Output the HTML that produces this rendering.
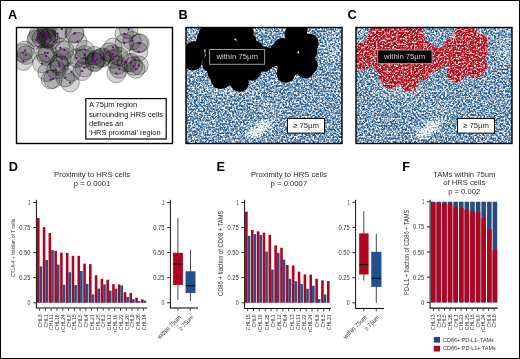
<!DOCTYPE html>
<html><head><meta charset="utf-8"><style>
html,body{margin:0;padding:0;background:#fff;}
svg{display:block;font-family:"Liberation Sans", sans-serif;}
text{opacity:0.999;}
</style></head><body>
<svg width="520" height="359" viewBox="0 0 520 359">
<defs>
<filter id="nzg" x="0" y="0" width="1" height="1" color-interpolation-filters="sRGB">
<feTurbulence type="fractalNoise" baseFrequency="0.55" numOctaves="2" seed="7"/>
<feColorMatrix type="matrix" values="1 0 0 0 0  1 0 0 0 0  1 0 0 0 0  0 0 0 0 1"/>
</filter>
<filter id="thb" x="0" y="0" width="1" height="1" color-interpolation-filters="sRGB">
<feColorMatrix type="matrix" values="0 0 0 0 0.16  0 0 0 0 0.37  0 0 0 0 0.57  -3.2 0 0 0 2.196"/>
</filter>
<filter id="nzr" x="0" y="0" width="1" height="1" color-interpolation-filters="sRGB">
<feTurbulence type="fractalNoise" baseFrequency="0.55" numOctaves="2" seed="11"/>
<feColorMatrix type="matrix" values="0 0 0 0 0.68  0 0 0 0 0.05  0 0 0 0 0.1  3.2 0 0 0 -0.780"/>
</filter>
<radialGradient id="wg"><stop offset="0" stop-color="#fff" stop-opacity="1"/><stop offset="0.55" stop-color="#fff" stop-opacity="0.6"/><stop offset="1" stop-color="#fff" stop-opacity="0"/></radialGradient>
<clipPath id="clipA"><rect x="16.5" y="27.5" width="156" height="116"/></clipPath>
<clipPath id="clipB"><rect x="186.0" y="27.5" width="156" height="116"/></clipPath>
<clipPath id="clipC"><rect x="356.0" y="27.5" width="156" height="116"/></clipPath>
<clipPath id="blobC"><circle cx="378.2" cy="33.5" r="9.3"/><circle cx="376.5" cy="37.8" r="9.3"/><circle cx="375.7" cy="39.9" r="9.3"/><circle cx="386.5" cy="28.9" r="9.3"/><circle cx="386.0" cy="33.1" r="9.3"/><circle cx="385.8" cy="37.4" r="9.3"/><circle cx="386.4" cy="39.0" r="9.3"/><circle cx="390.0" cy="40.0" r="9.3"/><circle cx="364.5" cy="50.4" r="9.3"/><circle cx="362.3" cy="53.0" r="9.3"/><circle cx="365.5" cy="55.1" r="9.3"/><circle cx="362.8" cy="61.1" r="9.3"/><circle cx="384.5" cy="52.9" r="9.3"/><circle cx="387.2" cy="53.1" r="9.3"/><circle cx="385.5" cy="56.1" r="9.3"/><circle cx="401.4" cy="29.1" r="9.3"/><circle cx="397.1" cy="33.7" r="9.3"/><circle cx="414.3" cy="33.0" r="9.3"/><circle cx="413.8" cy="33.8" r="9.3"/><circle cx="417.2" cy="41.6" r="9.3"/><circle cx="399.9" cy="47.8" r="9.3"/><circle cx="404.1" cy="50.1" r="9.3"/><circle cx="424.5" cy="49.8" r="9.3"/><circle cx="424.0" cy="54.9" r="9.3"/><circle cx="423.6" cy="58.2" r="9.3"/><circle cx="404.8" cy="57.2" r="9.3"/><circle cx="401.4" cy="58.7" r="9.3"/><circle cx="416.1" cy="58.1" r="9.3"/><circle cx="433.8" cy="55.7" r="9.3"/><circle cx="436.2" cy="59.3" r="9.3"/><circle cx="434.5" cy="61.4" r="9.3"/><circle cx="440.7" cy="58.0" r="9.3"/><circle cx="441.8" cy="57.1" r="9.3"/><circle cx="468.2" cy="29.4" r="9.3"/><circle cx="463.8" cy="33.8" r="9.3"/><circle cx="471.6" cy="40.7" r="9.3"/><circle cx="463.8" cy="43.1" r="9.3"/><circle cx="452.4" cy="47.4" r="9.3"/><circle cx="448.6" cy="52.0" r="9.3"/><circle cx="452.1" cy="54.3" r="9.3"/><circle cx="458.6" cy="56.5" r="9.3"/><circle cx="452.5" cy="59.0" r="9.3"/><circle cx="381.4" cy="63.5" r="9.3"/><circle cx="386.7" cy="72.2" r="9.3"/><circle cx="390.1" cy="79.6" r="9.3"/><circle cx="392.4" cy="79.1" r="9.3"/><circle cx="395.5" cy="69.8" r="9.3"/><circle cx="398.4" cy="63.8" r="9.3"/><circle cx="398.9" cy="65.9" r="9.3"/><circle cx="410.9" cy="72.0" r="9.3"/><circle cx="404.8" cy="77.6" r="9.3"/><circle cx="409.6" cy="82.7" r="9.3"/><circle cx="423.7" cy="67.7" r="9.3"/><circle cx="421.7" cy="71.2" r="9.3"/><circle cx="434.0" cy="62.5" r="9.3"/><circle cx="457.0" cy="65.1" r="9.3"/><circle cx="458.6" cy="69.0" r="9.3"/><circle cx="455.8" cy="73.5" r="9.3"/><circle cx="466.1" cy="62.5" r="9.3"/><circle cx="470.4" cy="62.7" r="9.3"/><circle cx="473.0" cy="66.0" r="9.3"/><circle cx="475.3" cy="69.0" r="9.3"/><circle cx="478.4" cy="65.3" r="9.3"/><circle cx="477.9" cy="43.4" r="9.3"/><circle cx="479.4" cy="43.1" r="9.3"/><circle cx="478.2" cy="51.6" r="9.3"/></clipPath>
<mask id="outC" maskUnits="userSpaceOnUse" x="0" y="0" width="520" height="359"><rect x="0" y="0" width="520" height="359" fill="#fff"/><g fill="#000"><circle cx="378.2" cy="33.5" r="9.3"/><circle cx="376.5" cy="37.8" r="9.3"/><circle cx="375.7" cy="39.9" r="9.3"/><circle cx="386.5" cy="28.9" r="9.3"/><circle cx="386.0" cy="33.1" r="9.3"/><circle cx="385.8" cy="37.4" r="9.3"/><circle cx="386.4" cy="39.0" r="9.3"/><circle cx="390.0" cy="40.0" r="9.3"/><circle cx="364.5" cy="50.4" r="9.3"/><circle cx="362.3" cy="53.0" r="9.3"/><circle cx="365.5" cy="55.1" r="9.3"/><circle cx="362.8" cy="61.1" r="9.3"/><circle cx="384.5" cy="52.9" r="9.3"/><circle cx="387.2" cy="53.1" r="9.3"/><circle cx="385.5" cy="56.1" r="9.3"/><circle cx="401.4" cy="29.1" r="9.3"/><circle cx="397.1" cy="33.7" r="9.3"/><circle cx="414.3" cy="33.0" r="9.3"/><circle cx="413.8" cy="33.8" r="9.3"/><circle cx="417.2" cy="41.6" r="9.3"/><circle cx="399.9" cy="47.8" r="9.3"/><circle cx="404.1" cy="50.1" r="9.3"/><circle cx="424.5" cy="49.8" r="9.3"/><circle cx="424.0" cy="54.9" r="9.3"/><circle cx="423.6" cy="58.2" r="9.3"/><circle cx="404.8" cy="57.2" r="9.3"/><circle cx="401.4" cy="58.7" r="9.3"/><circle cx="416.1" cy="58.1" r="9.3"/><circle cx="433.8" cy="55.7" r="9.3"/><circle cx="436.2" cy="59.3" r="9.3"/><circle cx="434.5" cy="61.4" r="9.3"/><circle cx="440.7" cy="58.0" r="9.3"/><circle cx="441.8" cy="57.1" r="9.3"/><circle cx="468.2" cy="29.4" r="9.3"/><circle cx="463.8" cy="33.8" r="9.3"/><circle cx="471.6" cy="40.7" r="9.3"/><circle cx="463.8" cy="43.1" r="9.3"/><circle cx="452.4" cy="47.4" r="9.3"/><circle cx="448.6" cy="52.0" r="9.3"/><circle cx="452.1" cy="54.3" r="9.3"/><circle cx="458.6" cy="56.5" r="9.3"/><circle cx="452.5" cy="59.0" r="9.3"/><circle cx="381.4" cy="63.5" r="9.3"/><circle cx="386.7" cy="72.2" r="9.3"/><circle cx="390.1" cy="79.6" r="9.3"/><circle cx="392.4" cy="79.1" r="9.3"/><circle cx="395.5" cy="69.8" r="9.3"/><circle cx="398.4" cy="63.8" r="9.3"/><circle cx="398.9" cy="65.9" r="9.3"/><circle cx="410.9" cy="72.0" r="9.3"/><circle cx="404.8" cy="77.6" r="9.3"/><circle cx="409.6" cy="82.7" r="9.3"/><circle cx="423.7" cy="67.7" r="9.3"/><circle cx="421.7" cy="71.2" r="9.3"/><circle cx="434.0" cy="62.5" r="9.3"/><circle cx="457.0" cy="65.1" r="9.3"/><circle cx="458.6" cy="69.0" r="9.3"/><circle cx="455.8" cy="73.5" r="9.3"/><circle cx="466.1" cy="62.5" r="9.3"/><circle cx="470.4" cy="62.7" r="9.3"/><circle cx="473.0" cy="66.0" r="9.3"/><circle cx="475.3" cy="69.0" r="9.3"/><circle cx="478.4" cy="65.3" r="9.3"/><circle cx="477.9" cy="43.4" r="9.3"/><circle cx="479.4" cy="43.1" r="9.3"/><circle cx="478.2" cy="51.6" r="9.3"/></g></mask>
</defs>
<rect x="0.5" y="0.5" width="519" height="358" fill="#fff" stroke="#000" stroke-width="1"/>

<text x="8.0" y="18.5" font-size="12.8" font-weight="bold" fill="#000">A</text>
<text x="178.6" y="18.5" font-size="12.8" font-weight="bold" fill="#000">B</text>
<text x="347.6" y="18.5" font-size="12.8" font-weight="bold" fill="#000">C</text>
<text x="8.8" y="170.6" font-size="12.8" font-weight="bold" fill="#000">D</text>
<text x="216.6" y="170.6" font-size="12.8" font-weight="bold" fill="#000">E</text>
<text x="402.2" y="170.6" font-size="12.8" font-weight="bold" fill="#000">F</text>
<g clip-path="url(#clipA)">
<g fill="rgba(0,0,0,0.17)" stroke="rgba(0,0,0,0.55)" stroke-width="0.6"><circle cx="38.7" cy="33.5" r="9.3"/><circle cx="37.0" cy="37.8" r="9.3"/><circle cx="36.2" cy="39.9" r="9.3"/><circle cx="47.0" cy="28.9" r="9.3"/><circle cx="46.5" cy="33.1" r="9.3"/><circle cx="46.3" cy="37.4" r="9.3"/><circle cx="46.9" cy="39.0" r="9.3"/><circle cx="50.5" cy="40.0" r="9.3"/><circle cx="25.0" cy="50.4" r="9.3"/><circle cx="22.8" cy="53.0" r="9.3"/><circle cx="26.0" cy="55.1" r="9.3"/><circle cx="23.3" cy="61.1" r="9.3"/><circle cx="45.0" cy="52.9" r="9.3"/><circle cx="47.7" cy="53.1" r="9.3"/><circle cx="46.0" cy="56.1" r="9.3"/><circle cx="61.9" cy="29.1" r="9.3"/><circle cx="57.6" cy="33.7" r="9.3"/><circle cx="74.8" cy="33.0" r="9.3"/><circle cx="74.3" cy="33.8" r="9.3"/><circle cx="77.7" cy="41.6" r="9.3"/><circle cx="60.4" cy="47.8" r="9.3"/><circle cx="64.6" cy="50.1" r="9.3"/><circle cx="85.0" cy="49.8" r="9.3"/><circle cx="84.5" cy="54.9" r="9.3"/><circle cx="84.1" cy="58.2" r="9.3"/><circle cx="65.3" cy="57.2" r="9.3"/><circle cx="61.9" cy="58.7" r="9.3"/><circle cx="76.6" cy="58.1" r="9.3"/><circle cx="94.3" cy="55.7" r="9.3"/><circle cx="96.7" cy="59.3" r="9.3"/><circle cx="95.0" cy="61.4" r="9.3"/><circle cx="101.2" cy="58.0" r="9.3"/><circle cx="102.3" cy="57.1" r="9.3"/><circle cx="128.7" cy="29.4" r="9.3"/><circle cx="124.3" cy="33.8" r="9.3"/><circle cx="132.1" cy="40.7" r="9.3"/><circle cx="124.3" cy="43.1" r="9.3"/><circle cx="112.9" cy="47.4" r="9.3"/><circle cx="109.1" cy="52.0" r="9.3"/><circle cx="112.6" cy="54.3" r="9.3"/><circle cx="119.1" cy="56.5" r="9.3"/><circle cx="113.0" cy="59.0" r="9.3"/><circle cx="41.9" cy="63.5" r="9.3"/><circle cx="47.2" cy="72.2" r="9.3"/><circle cx="50.6" cy="79.6" r="9.3"/><circle cx="52.9" cy="79.1" r="9.3"/><circle cx="56.0" cy="69.8" r="9.3"/><circle cx="58.9" cy="63.8" r="9.3"/><circle cx="59.4" cy="65.9" r="9.3"/><circle cx="71.4" cy="72.0" r="9.3"/><circle cx="65.3" cy="77.6" r="9.3"/><circle cx="70.1" cy="82.7" r="9.3"/><circle cx="84.2" cy="67.7" r="9.3"/><circle cx="82.2" cy="71.2" r="9.3"/><circle cx="94.5" cy="62.5" r="9.3"/><circle cx="117.5" cy="65.1" r="9.3"/><circle cx="119.1" cy="69.0" r="9.3"/><circle cx="116.3" cy="73.5" r="9.3"/><circle cx="126.6" cy="62.5" r="9.3"/><circle cx="130.9" cy="62.7" r="9.3"/><circle cx="133.5" cy="66.0" r="9.3"/><circle cx="135.8" cy="69.0" r="9.3"/><circle cx="138.9" cy="65.3" r="9.3"/><circle cx="138.4" cy="43.4" r="9.3"/><circle cx="139.9" cy="43.1" r="9.3"/><circle cx="138.7" cy="51.6" r="9.3"/></g>
<g fill="rgba(0,0,0,0.16)" stroke="rgba(0,0,0,0.6)" stroke-width="0.7"><circle cx="41.5" cy="38.5" r="9.3"/><circle cx="48.5" cy="38.0" r="9.3"/></g>
<circle cx="38.7" cy="33.5" r="1.1" fill="#72008a"/><circle cx="37.0" cy="37.8" r="1.1" fill="#72008a"/><circle cx="36.2" cy="39.9" r="1.1" fill="#72008a"/><circle cx="47.0" cy="28.9" r="1.1" fill="#72008a"/><circle cx="46.5" cy="33.1" r="1.1" fill="#72008a"/><circle cx="46.3" cy="37.4" r="1.1" fill="#72008a"/><circle cx="46.9" cy="39.0" r="1.1" fill="#72008a"/><circle cx="50.5" cy="40.0" r="1.1" fill="#72008a"/><circle cx="25.0" cy="50.4" r="1.1" fill="#72008a"/><circle cx="22.8" cy="53.0" r="1.1" fill="#72008a"/><circle cx="26.0" cy="55.1" r="1.1" fill="#72008a"/><circle cx="23.3" cy="61.1" r="1.1" fill="#72008a"/><circle cx="45.0" cy="52.9" r="1.1" fill="#72008a"/><circle cx="47.7" cy="53.1" r="1.1" fill="#72008a"/><circle cx="46.0" cy="56.1" r="1.1" fill="#72008a"/><circle cx="61.9" cy="29.1" r="1.1" fill="#72008a"/><circle cx="57.6" cy="33.7" r="1.1" fill="#72008a"/><circle cx="74.8" cy="33.0" r="1.1" fill="#72008a"/><circle cx="74.3" cy="33.8" r="1.1" fill="#72008a"/><circle cx="77.7" cy="41.6" r="1.1" fill="#72008a"/><circle cx="60.4" cy="47.8" r="1.1" fill="#72008a"/><circle cx="64.6" cy="50.1" r="1.1" fill="#72008a"/><circle cx="85.0" cy="49.8" r="1.1" fill="#72008a"/><circle cx="84.5" cy="54.9" r="1.1" fill="#72008a"/><circle cx="84.1" cy="58.2" r="1.1" fill="#72008a"/><circle cx="65.3" cy="57.2" r="1.1" fill="#72008a"/><circle cx="61.9" cy="58.7" r="1.1" fill="#72008a"/><circle cx="76.6" cy="58.1" r="1.1" fill="#72008a"/><circle cx="94.3" cy="55.7" r="1.1" fill="#72008a"/><circle cx="96.7" cy="59.3" r="1.1" fill="#72008a"/><circle cx="95.0" cy="61.4" r="1.1" fill="#72008a"/><circle cx="101.2" cy="58.0" r="1.1" fill="#72008a"/><circle cx="102.3" cy="57.1" r="1.1" fill="#72008a"/><circle cx="128.7" cy="29.4" r="1.1" fill="#72008a"/><circle cx="124.3" cy="33.8" r="1.1" fill="#72008a"/><circle cx="132.1" cy="40.7" r="1.1" fill="#72008a"/><circle cx="124.3" cy="43.1" r="1.1" fill="#72008a"/><circle cx="112.9" cy="47.4" r="1.1" fill="#72008a"/><circle cx="109.1" cy="52.0" r="1.1" fill="#72008a"/><circle cx="112.6" cy="54.3" r="1.1" fill="#72008a"/><circle cx="119.1" cy="56.5" r="1.1" fill="#72008a"/><circle cx="113.0" cy="59.0" r="1.1" fill="#72008a"/><circle cx="41.9" cy="63.5" r="1.1" fill="#72008a"/><circle cx="47.2" cy="72.2" r="1.1" fill="#72008a"/><circle cx="50.6" cy="79.6" r="1.1" fill="#72008a"/><circle cx="52.9" cy="79.1" r="1.1" fill="#72008a"/><circle cx="56.0" cy="69.8" r="1.1" fill="#72008a"/><circle cx="58.9" cy="63.8" r="1.1" fill="#72008a"/><circle cx="59.4" cy="65.9" r="1.1" fill="#72008a"/><circle cx="71.4" cy="72.0" r="1.1" fill="#72008a"/><circle cx="65.3" cy="77.6" r="1.1" fill="#72008a"/><circle cx="70.1" cy="82.7" r="1.1" fill="#72008a"/><circle cx="84.2" cy="67.7" r="1.1" fill="#72008a"/><circle cx="82.2" cy="71.2" r="1.1" fill="#72008a"/><circle cx="94.5" cy="62.5" r="1.1" fill="#72008a"/><circle cx="117.5" cy="65.1" r="1.1" fill="#72008a"/><circle cx="119.1" cy="69.0" r="1.1" fill="#72008a"/><circle cx="116.3" cy="73.5" r="1.1" fill="#72008a"/><circle cx="126.6" cy="62.5" r="1.1" fill="#72008a"/><circle cx="130.9" cy="62.7" r="1.1" fill="#72008a"/><circle cx="133.5" cy="66.0" r="1.1" fill="#72008a"/><circle cx="135.8" cy="69.0" r="1.1" fill="#72008a"/><circle cx="138.9" cy="65.3" r="1.1" fill="#72008a"/><circle cx="138.4" cy="43.4" r="1.1" fill="#72008a"/><circle cx="139.9" cy="43.1" r="1.1" fill="#72008a"/><circle cx="138.7" cy="51.6" r="1.1" fill="#72008a"/>
</g>
<rect x="16.5" y="27.5" width="156" height="116" fill="none" stroke="#000" stroke-width="1.4"/>
<rect x="85.8" y="98.6" width="80.4" height="40.4" fill="#fff" stroke="#000" stroke-width="1.2"/>
<text x="89" y="107.4" font-size="7.45" fill="#111">A 75µm region</text>
<text x="89" y="116.5" font-size="7.45" fill="#111">surrounding HRS cells</text>
<text x="89" y="125.6" font-size="7.45" fill="#111">defines an</text>
<text x="89" y="134.7" font-size="7.45" fill="#111">‘HRS proximal’ region</text>
<g clip-path="url(#clipB)">
<rect x="186.0" y="27.5" width="156" height="116" fill="#fff"/>
<g filter="url(#thb)"><rect x="186.0" y="27.5" width="156" height="116" filter="url(#nzg)"/><ellipse cx="254.0" cy="133" rx="11" ry="7" fill="url(#wg)" opacity="0.4"/><ellipse cx="263.0" cy="126" rx="11" ry="8" fill="url(#wg)" opacity="0.38"/><ellipse cx="272.0" cy="120" rx="8" ry="5" fill="url(#wg)" opacity="0.15"/><ellipse cx="268.0" cy="108" rx="20" ry="7" fill="url(#wg)" opacity="0.1"/><ellipse cx="231.0" cy="90" rx="35" ry="10" fill="url(#wg)" opacity="0.13"/><ellipse cx="336.0" cy="48" rx="14" ry="22" fill="url(#wg)" opacity="0.12"/><ellipse cx="189.0" cy="33" rx="10" ry="8" fill="url(#wg)" opacity="0.1"/></g>
<g fill="#000"><circle cx="208.2" cy="33.5" r="9.3"/><circle cx="206.5" cy="37.8" r="9.3"/><circle cx="205.7" cy="39.9" r="9.3"/><circle cx="216.5" cy="28.9" r="9.3"/><circle cx="216.0" cy="33.1" r="9.3"/><circle cx="215.8" cy="37.4" r="9.3"/><circle cx="216.4" cy="39.0" r="9.3"/><circle cx="220.0" cy="40.0" r="9.3"/><circle cx="194.5" cy="50.4" r="9.3"/><circle cx="192.3" cy="53.0" r="9.3"/><circle cx="195.5" cy="55.1" r="9.3"/><circle cx="192.8" cy="61.1" r="9.3"/><circle cx="214.5" cy="52.9" r="9.3"/><circle cx="217.2" cy="53.1" r="9.3"/><circle cx="215.5" cy="56.1" r="9.3"/><circle cx="231.4" cy="29.1" r="9.3"/><circle cx="227.1" cy="33.7" r="9.3"/><circle cx="244.3" cy="33.0" r="9.3"/><circle cx="243.8" cy="33.8" r="9.3"/><circle cx="247.2" cy="41.6" r="9.3"/><circle cx="229.9" cy="47.8" r="9.3"/><circle cx="234.1" cy="50.1" r="9.3"/><circle cx="254.5" cy="49.8" r="9.3"/><circle cx="254.0" cy="54.9" r="9.3"/><circle cx="253.6" cy="58.2" r="9.3"/><circle cx="234.8" cy="57.2" r="9.3"/><circle cx="231.4" cy="58.7" r="9.3"/><circle cx="246.1" cy="58.1" r="9.3"/><circle cx="263.8" cy="55.7" r="9.3"/><circle cx="266.2" cy="59.3" r="9.3"/><circle cx="264.5" cy="61.4" r="9.3"/><circle cx="270.7" cy="58.0" r="9.3"/><circle cx="271.8" cy="57.1" r="9.3"/><circle cx="298.2" cy="29.4" r="9.3"/><circle cx="293.8" cy="33.8" r="9.3"/><circle cx="301.6" cy="40.7" r="9.3"/><circle cx="293.8" cy="43.1" r="9.3"/><circle cx="282.4" cy="47.4" r="9.3"/><circle cx="278.6" cy="52.0" r="9.3"/><circle cx="282.1" cy="54.3" r="9.3"/><circle cx="288.6" cy="56.5" r="9.3"/><circle cx="282.5" cy="59.0" r="9.3"/><circle cx="211.4" cy="63.5" r="9.3"/><circle cx="216.7" cy="72.2" r="9.3"/><circle cx="220.1" cy="79.6" r="9.3"/><circle cx="222.4" cy="79.1" r="9.3"/><circle cx="225.5" cy="69.8" r="9.3"/><circle cx="228.4" cy="63.8" r="9.3"/><circle cx="228.9" cy="65.9" r="9.3"/><circle cx="240.9" cy="72.0" r="9.3"/><circle cx="234.8" cy="77.6" r="9.3"/><circle cx="239.6" cy="82.7" r="9.3"/><circle cx="253.7" cy="67.7" r="9.3"/><circle cx="251.7" cy="71.2" r="9.3"/><circle cx="264.0" cy="62.5" r="9.3"/><circle cx="287.0" cy="65.1" r="9.3"/><circle cx="288.6" cy="69.0" r="9.3"/><circle cx="285.8" cy="73.5" r="9.3"/><circle cx="296.1" cy="62.5" r="9.3"/><circle cx="300.4" cy="62.7" r="9.3"/><circle cx="303.0" cy="66.0" r="9.3"/><circle cx="305.3" cy="69.0" r="9.3"/><circle cx="308.4" cy="65.3" r="9.3"/><circle cx="307.9" cy="43.4" r="9.3"/><circle cx="309.4" cy="43.1" r="9.3"/><circle cx="308.2" cy="51.6" r="9.3"/></g>
</g>
<rect x="186.0" y="27.5" width="156" height="116" fill="none" stroke="#000" stroke-width="1.4"/>
<rect x="209.6" y="49.5" width="55" height="14.8" fill="#000" stroke="#9a9a9a" stroke-width="1"/>
<text x="216.4" y="58.8" font-size="7.7" fill="#cfcfcf" textLength="41.5" lengthAdjust="spacingAndGlyphs">within 75µm</text>
<rect x="287.5" y="118.5" width="37" height="14.6" fill="#fff" stroke="#000" stroke-width="1"/>
<text x="293" y="128.3" font-size="7.7" fill="#222" textLength="26" lengthAdjust="spacingAndGlyphs">≥ 75µm</text>
<g clip-path="url(#clipC)">
<rect x="356.0" y="27.5" width="156" height="116" fill="#fff"/>
<g mask="url(#outC)"><g filter="url(#thb)"><rect x="356.0" y="27.5" width="156" height="116" filter="url(#nzg)"/><ellipse cx="424.0" cy="133" rx="11" ry="7" fill="url(#wg)" opacity="0.4"/><ellipse cx="433.0" cy="126" rx="11" ry="8" fill="url(#wg)" opacity="0.38"/><ellipse cx="442.0" cy="120" rx="8" ry="5" fill="url(#wg)" opacity="0.15"/><ellipse cx="438.0" cy="108" rx="20" ry="7" fill="url(#wg)" opacity="0.1"/><ellipse cx="401.0" cy="90" rx="35" ry="10" fill="url(#wg)" opacity="0.13"/><ellipse cx="506.0" cy="48" rx="14" ry="22" fill="url(#wg)" opacity="0.12"/><ellipse cx="359.0" cy="33" rx="10" ry="8" fill="url(#wg)" opacity="0.1"/></g></g>
<g clip-path="url(#blobC)"><rect x="356.0" y="27.5" width="156" height="116" filter="url(#nzr)"/></g>
</g>
<rect x="356.0" y="27.5" width="156" height="116" fill="none" stroke="#000" stroke-width="1.4"/>
<rect x="377.7" y="50" width="54.4" height="13.6" fill="#000" stroke="#9a9a9a" stroke-width="1"/>
<text x="384.1" y="58.8" font-size="7.7" fill="#cfcfcf" textLength="41.1" lengthAdjust="spacingAndGlyphs">within 75µm</text>
<rect x="457.5" y="118.5" width="37" height="14.6" fill="#fff" stroke="#000" stroke-width="1"/>
<text x="463" y="128.3" font-size="7.7" fill="#222" textLength="26" lengthAdjust="spacingAndGlyphs">≥ 75µm</text>
<text x="92.05" y="176.8" font-size="7.7" fill="#2c2c2c" text-anchor="middle">Proximity to HRS cells</text><text x="92.05" y="185.9" font-size="7.7" fill="#2c2c2c" text-anchor="middle">p = 0.0001</text>
<rect x="37.00" y="217.96" width="2.6" height="84.84" fill="#b0041f"/><rect x="39.60" y="266.25" width="2.6" height="36.55" fill="#22508a"/><line x1="39.60" y1="308" x2="39.60" y2="311" stroke="#222" stroke-width="0.8"/><text transform="translate(41.80,314.3) rotate(-90)" font-size="6.2" fill="#333" text-anchor="end" textLength="13.16" lengthAdjust="spacingAndGlyphs">CHL3</text><rect x="42.78" y="227.10" width="2.6" height="75.70" fill="#b0041f"/><rect x="45.38" y="259.93" width="2.6" height="42.87" fill="#22508a"/><line x1="45.38" y1="308" x2="45.38" y2="311" stroke="#222" stroke-width="0.8"/><text transform="translate(47.58,314.3) rotate(-90)" font-size="6.2" fill="#333" text-anchor="end" textLength="13.16" lengthAdjust="spacingAndGlyphs">CHL1</text><rect x="48.56" y="233.02" width="2.6" height="69.78" fill="#b0041f"/><rect x="51.16" y="250.09" width="2.6" height="52.71" fill="#22508a"/><line x1="51.16" y1="308" x2="51.16" y2="311" stroke="#222" stroke-width="0.8"/><text transform="translate(53.36,314.3) rotate(-90)" font-size="6.2" fill="#333" text-anchor="end" textLength="15.64" lengthAdjust="spacingAndGlyphs">CHL11</text><rect x="54.34" y="250.89" width="2.6" height="51.91" fill="#b0041f"/><rect x="56.94" y="264.55" width="2.6" height="38.25" fill="#22508a"/><line x1="56.94" y1="308" x2="56.94" y2="311" stroke="#222" stroke-width="0.8"/><text transform="translate(59.14,314.3) rotate(-90)" font-size="6.2" fill="#333" text-anchor="end" textLength="16.02" lengthAdjust="spacingAndGlyphs">CHL16</text><rect x="60.12" y="252.60" width="2.6" height="50.20" fill="#b0041f"/><rect x="62.72" y="284.73" width="2.6" height="18.07" fill="#22508a"/><line x1="62.72" y1="308" x2="62.72" y2="311" stroke="#222" stroke-width="0.8"/><text transform="translate(64.92,314.3) rotate(-90)" font-size="6.2" fill="#333" text-anchor="end" textLength="17.73" lengthAdjust="spacingAndGlyphs">rCHL24</text><rect x="65.90" y="252.90" width="2.6" height="49.90" fill="#b0041f"/><rect x="68.50" y="272.18" width="2.6" height="30.62" fill="#22508a"/><line x1="68.50" y1="308" x2="68.50" y2="311" stroke="#222" stroke-width="0.8"/><text transform="translate(70.70,314.3) rotate(-90)" font-size="6.2" fill="#333" text-anchor="end" textLength="13.16" lengthAdjust="spacingAndGlyphs">CHL9</text><rect x="71.68" y="255.81" width="2.6" height="46.99" fill="#b0041f"/><rect x="74.28" y="285.03" width="2.6" height="17.77" fill="#22508a"/><line x1="74.28" y1="308" x2="74.28" y2="311" stroke="#222" stroke-width="0.8"/><text transform="translate(76.48,314.3) rotate(-90)" font-size="6.2" fill="#333" text-anchor="end" textLength="16.02" lengthAdjust="spacingAndGlyphs">CHL15</text><rect x="77.46" y="255.81" width="2.6" height="46.99" fill="#b0041f"/><rect x="80.06" y="270.97" width="2.6" height="31.83" fill="#22508a"/><line x1="80.06" y1="308" x2="80.06" y2="311" stroke="#222" stroke-width="0.8"/><text transform="translate(82.26,314.3) rotate(-90)" font-size="6.2" fill="#333" text-anchor="end" textLength="13.16" lengthAdjust="spacingAndGlyphs">CHL5</text><rect x="83.24" y="263.64" width="2.6" height="39.16" fill="#b0041f"/><rect x="85.84" y="283.92" width="2.6" height="18.88" fill="#22508a"/><line x1="85.84" y1="308" x2="85.84" y2="311" stroke="#222" stroke-width="0.8"/><text transform="translate(88.04,314.3) rotate(-90)" font-size="6.2" fill="#333" text-anchor="end" textLength="13.16" lengthAdjust="spacingAndGlyphs">CHL4</text><rect x="89.02" y="264.15" width="2.6" height="38.65" fill="#b0041f"/><rect x="91.62" y="294.37" width="2.6" height="8.43" fill="#22508a"/><line x1="91.62" y1="308" x2="91.62" y2="311" stroke="#222" stroke-width="0.8"/><text transform="translate(93.82,314.3) rotate(-90)" font-size="6.2" fill="#333" text-anchor="end" textLength="16.02" lengthAdjust="spacingAndGlyphs">CHL21</text><rect x="94.80" y="275.29" width="2.6" height="27.51" fill="#b0041f"/><rect x="97.40" y="288.54" width="2.6" height="14.26" fill="#22508a"/><line x1="97.40" y1="308" x2="97.40" y2="311" stroke="#222" stroke-width="0.8"/><text transform="translate(99.60,314.3) rotate(-90)" font-size="6.2" fill="#333" text-anchor="end" textLength="16.02" lengthAdjust="spacingAndGlyphs">CHL25</text><rect x="100.58" y="278.80" width="2.6" height="24.00" fill="#b0041f"/><rect x="103.18" y="284.43" width="2.6" height="18.37" fill="#22508a"/><line x1="103.18" y1="308" x2="103.18" y2="311" stroke="#222" stroke-width="0.8"/><text transform="translate(105.38,314.3) rotate(-90)" font-size="6.2" fill="#333" text-anchor="end" textLength="13.16" lengthAdjust="spacingAndGlyphs">CHL2</text><rect x="106.36" y="279.71" width="2.6" height="23.09" fill="#b0041f"/><rect x="108.96" y="290.65" width="2.6" height="12.15" fill="#22508a"/><line x1="108.96" y1="308" x2="108.96" y2="311" stroke="#222" stroke-width="0.8"/><text transform="translate(111.16,314.3) rotate(-90)" font-size="6.2" fill="#333" text-anchor="end" textLength="16.02" lengthAdjust="spacingAndGlyphs">CHL12</text><rect x="112.14" y="284.23" width="2.6" height="18.57" fill="#b0041f"/><rect x="114.74" y="288.64" width="2.6" height="14.16" fill="#22508a"/><line x1="114.74" y1="308" x2="114.74" y2="311" stroke="#222" stroke-width="0.8"/><text transform="translate(116.94,314.3) rotate(-90)" font-size="6.2" fill="#333" text-anchor="end" textLength="17.73" lengthAdjust="spacingAndGlyphs">rCHL19</text><rect x="117.92" y="284.43" width="2.6" height="18.37" fill="#b0041f"/><rect x="120.52" y="285.53" width="2.6" height="17.27" fill="#22508a"/><line x1="120.52" y1="308" x2="120.52" y2="311" stroke="#222" stroke-width="0.8"/><text transform="translate(122.72,314.3) rotate(-90)" font-size="6.2" fill="#333" text-anchor="end" textLength="16.02" lengthAdjust="spacingAndGlyphs">CHL22</text><rect x="123.70" y="292.16" width="2.6" height="10.64" fill="#b0041f"/><rect x="126.30" y="296.88" width="2.6" height="5.92" fill="#22508a"/><line x1="126.30" y1="308" x2="126.30" y2="311" stroke="#222" stroke-width="0.8"/><text transform="translate(128.50,314.3) rotate(-90)" font-size="6.2" fill="#333" text-anchor="end" textLength="16.02" lengthAdjust="spacingAndGlyphs">CHL20</text><rect x="129.48" y="293.06" width="2.6" height="9.74" fill="#b0041f"/><rect x="132.08" y="299.19" width="2.6" height="3.61" fill="#22508a"/><line x1="132.08" y1="308" x2="132.08" y2="311" stroke="#222" stroke-width="0.8"/><text transform="translate(134.28,314.3) rotate(-90)" font-size="6.2" fill="#333" text-anchor="end" textLength="13.16" lengthAdjust="spacingAndGlyphs">CHL8</text><rect x="135.26" y="297.68" width="2.6" height="5.12" fill="#b0041f"/><rect x="137.86" y="301.09" width="2.6" height="1.71" fill="#22508a"/><line x1="137.86" y1="308" x2="137.86" y2="311" stroke="#222" stroke-width="0.8"/><text transform="translate(140.06,314.3) rotate(-90)" font-size="6.2" fill="#333" text-anchor="end" textLength="16.02" lengthAdjust="spacingAndGlyphs">CHL26</text><rect x="141.04" y="299.39" width="2.6" height="3.41" fill="#b0041f"/><rect x="143.64" y="300.59" width="2.6" height="2.21" fill="#22508a"/><line x1="143.64" y1="308" x2="143.64" y2="311" stroke="#222" stroke-width="0.8"/><text transform="translate(145.84,314.3) rotate(-90)" font-size="6.2" fill="#333" text-anchor="end" textLength="16.02" lengthAdjust="spacingAndGlyphs">CHL14</text>
<line x1="36.4" y1="199.8" x2="36.4" y2="308.0" stroke="#111" stroke-width="1"/><line x1="33.199999999999996" y1="202.4" x2="36.4" y2="202.4" stroke="#111" stroke-width="0.9"/><text x="30.5" y="204.9" font-size="6.6" fill="#333" text-anchor="end" textLength="2.3" lengthAdjust="spacingAndGlyphs">1</text><line x1="33.199999999999996" y1="227.5" x2="36.4" y2="227.5" stroke="#111" stroke-width="0.9"/><text x="30.5" y="230.0" font-size="6.6" fill="#333" text-anchor="end" textLength="11.2" lengthAdjust="spacingAndGlyphs">0.75</text><line x1="33.199999999999996" y1="252.6" x2="36.4" y2="252.6" stroke="#111" stroke-width="0.9"/><text x="30.5" y="255.1" font-size="6.6" fill="#333" text-anchor="end" textLength="11.2" lengthAdjust="spacingAndGlyphs">0.50</text><line x1="33.199999999999996" y1="277.7" x2="36.4" y2="277.7" stroke="#111" stroke-width="0.9"/><text x="30.5" y="280.2" font-size="6.6" fill="#333" text-anchor="end" textLength="11.2" lengthAdjust="spacingAndGlyphs">0.25</text><line x1="33.199999999999996" y1="302.8" x2="36.4" y2="302.8" stroke="#111" stroke-width="0.9"/><text x="30.5" y="305.3" font-size="6.6" fill="#333" text-anchor="end" textLength="2.9" lengthAdjust="spacingAndGlyphs">0</text>
<line x1="35.9" y1="308.0" x2="147.3" y2="308.0" stroke="#111" stroke-width="1.1"/>
<text transform="translate(15.3,247.9) rotate(-90)" font-size="5.4" fill="#333" text-anchor="middle" textLength="58" lengthAdjust="spacingAndGlyphs">CTLA-4 + fraction of T cells</text>
<line x1="177.9" y1="218.0" x2="177.9" y2="299.8" stroke="#333" stroke-width="0.9"/><rect x="173.2" y="253.1" width="9.5" height="31.6" fill="#b0041f" stroke="#b0041f" stroke-width="0.6"/><line x1="173.2" y1="264.1" x2="182.7" y2="264.1" stroke="#111" stroke-width="1.3"/>
<line x1="190.5" y1="249.8" x2="190.5" y2="300.8" stroke="#333" stroke-width="0.9"/><rect x="185.9" y="271.7" width="9.2" height="21.1" fill="#22508a" stroke="#22508a" stroke-width="0.6"/><line x1="185.9" y1="285.7" x2="195.1" y2="285.7" stroke="#111" stroke-width="1.3"/>
<line x1="170.4" y1="199.8" x2="170.4" y2="308.0" stroke="#111" stroke-width="1"/><line x1="167.20000000000002" y1="202.4" x2="170.4" y2="202.4" stroke="#111" stroke-width="0.9"/><text x="164.5" y="204.9" font-size="6.6" fill="#333" text-anchor="end" textLength="2.3" lengthAdjust="spacingAndGlyphs">1</text><line x1="167.20000000000002" y1="227.5" x2="170.4" y2="227.5" stroke="#111" stroke-width="0.9"/><text x="164.5" y="230.0" font-size="6.6" fill="#333" text-anchor="end" textLength="11.2" lengthAdjust="spacingAndGlyphs">0.75</text><line x1="167.20000000000002" y1="252.6" x2="170.4" y2="252.6" stroke="#111" stroke-width="0.9"/><text x="164.5" y="255.1" font-size="6.6" fill="#333" text-anchor="end" textLength="11.2" lengthAdjust="spacingAndGlyphs">0.50</text><line x1="167.20000000000002" y1="277.7" x2="170.4" y2="277.7" stroke="#111" stroke-width="0.9"/><text x="164.5" y="280.2" font-size="6.6" fill="#333" text-anchor="end" textLength="11.2" lengthAdjust="spacingAndGlyphs">0.25</text><line x1="167.20000000000002" y1="302.8" x2="170.4" y2="302.8" stroke="#111" stroke-width="0.9"/><text x="164.5" y="305.3" font-size="6.6" fill="#333" text-anchor="end" textLength="2.9" lengthAdjust="spacingAndGlyphs">0</text>
<line x1="169.9" y1="308.0" x2="198" y2="308.0" stroke="#111" stroke-width="1.1"/>
<line x1="177.9" y1="308" x2="177.9" y2="311" stroke="#222" stroke-width="0.8"/>
<line x1="190.3" y1="308" x2="190.3" y2="311" stroke="#222" stroke-width="0.8"/>
<text transform="translate(181.6,317.8) rotate(-45)" font-size="6.3" fill="#333" text-anchor="end" textLength="30.4" lengthAdjust="spacingAndGlyphs">within 75um</text>
<text transform="translate(194,317.8) rotate(-45)" font-size="6.3" fill="#333" text-anchor="end" textLength="18.5" lengthAdjust="spacingAndGlyphs">≥ 75um</text>
<text x="288.9" y="176.8" font-size="7.7" fill="#2c2c2c" text-anchor="middle">Proximity to HRS cells</text><text x="288.9" y="185.9" font-size="7.7" fill="#2c2c2c" text-anchor="middle">p = 0.0007</text>
<rect x="245.10" y="211.64" width="2.6" height="91.16" fill="#b0041f"/><rect x="247.70" y="235.83" width="2.6" height="66.97" fill="#22508a"/><line x1="247.70" y1="308.5" x2="247.70" y2="311.3" stroke="#222" stroke-width="0.8"/><rect x="250.95" y="230.01" width="2.6" height="72.79" fill="#b0041f"/><rect x="253.55" y="234.13" width="2.6" height="68.67" fill="#22508a"/><line x1="253.55" y1="308.5" x2="253.55" y2="311.3" stroke="#222" stroke-width="0.8"/><rect x="256.80" y="231.32" width="2.6" height="71.48" fill="#b0041f"/><rect x="259.40" y="234.93" width="2.6" height="67.87" fill="#22508a"/><line x1="259.40" y1="308.5" x2="259.40" y2="311.3" stroke="#222" stroke-width="0.8"/><rect x="262.65" y="232.62" width="2.6" height="70.18" fill="#b0041f"/><rect x="265.25" y="251.60" width="2.6" height="51.20" fill="#22508a"/><line x1="265.25" y1="308.5" x2="265.25" y2="311.3" stroke="#222" stroke-width="0.8"/><rect x="268.50" y="234.83" width="2.6" height="67.97" fill="#b0041f"/><rect x="271.10" y="269.57" width="2.6" height="33.23" fill="#22508a"/><line x1="271.10" y1="308.5" x2="271.10" y2="311.3" stroke="#222" stroke-width="0.8"/><rect x="274.35" y="245.27" width="2.6" height="57.53" fill="#b0041f"/><rect x="276.95" y="252.90" width="2.6" height="49.90" fill="#22508a"/><line x1="276.95" y1="308.5" x2="276.95" y2="311.3" stroke="#222" stroke-width="0.8"/><rect x="280.20" y="247.78" width="2.6" height="55.02" fill="#b0041f"/><rect x="282.80" y="259.63" width="2.6" height="43.17" fill="#22508a"/><line x1="282.80" y1="308.5" x2="282.80" y2="311.3" stroke="#222" stroke-width="0.8"/><rect x="286.05" y="264.95" width="2.6" height="37.85" fill="#b0041f"/><rect x="288.65" y="278.70" width="2.6" height="24.10" fill="#22508a"/><line x1="288.65" y1="308.5" x2="288.65" y2="311.3" stroke="#222" stroke-width="0.8"/><rect x="291.90" y="265.45" width="2.6" height="37.35" fill="#b0041f"/><rect x="294.50" y="281.21" width="2.6" height="21.59" fill="#22508a"/><line x1="294.50" y1="308.5" x2="294.50" y2="311.3" stroke="#222" stroke-width="0.8"/><rect x="297.75" y="271.68" width="2.6" height="31.12" fill="#b0041f"/><rect x="300.35" y="284.03" width="2.6" height="18.77" fill="#22508a"/><line x1="300.35" y1="308.5" x2="300.35" y2="311.3" stroke="#222" stroke-width="0.8"/><rect x="303.60" y="274.39" width="2.6" height="28.41" fill="#b0041f"/><rect x="306.20" y="288.74" width="2.6" height="14.06" fill="#22508a"/><line x1="306.20" y1="308.5" x2="306.20" y2="311.3" stroke="#222" stroke-width="0.8"/><rect x="309.45" y="274.69" width="2.6" height="28.11" fill="#b0041f"/><rect x="312.05" y="285.73" width="2.6" height="17.07" fill="#22508a"/><line x1="312.05" y1="308.5" x2="312.05" y2="311.3" stroke="#222" stroke-width="0.8"/><rect x="315.30" y="278.80" width="2.6" height="24.00" fill="#b0041f"/><rect x="317.90" y="299.09" width="2.6" height="3.71" fill="#22508a"/><line x1="317.90" y1="308.5" x2="317.90" y2="311.3" stroke="#222" stroke-width="0.8"/><rect x="321.15" y="280.31" width="2.6" height="22.49" fill="#b0041f"/><rect x="323.75" y="294.37" width="2.6" height="8.43" fill="#22508a"/><line x1="323.75" y1="308.5" x2="323.75" y2="311.3" stroke="#222" stroke-width="0.8"/><rect x="327.00" y="281.01" width="2.6" height="21.79" fill="#b0041f"/><line x1="329.60" y1="308.5" x2="329.60" y2="311.3" stroke="#222" stroke-width="0.8"/><text transform="translate(249.80,314.3) rotate(-90)" font-size="6.2" fill="#333" text-anchor="end" textLength="16.02" lengthAdjust="spacingAndGlyphs">CHL15</text><text transform="translate(256.05,314.3) rotate(-90)" font-size="6.2" fill="#333" text-anchor="end" textLength="13.16" lengthAdjust="spacingAndGlyphs">CHL9</text><text transform="translate(262.30,314.3) rotate(-90)" font-size="6.2" fill="#333" text-anchor="end" textLength="17.73" lengthAdjust="spacingAndGlyphs">rCHL19</text><text transform="translate(268.55,314.3) rotate(-90)" font-size="6.2" fill="#333" text-anchor="end" textLength="16.02" lengthAdjust="spacingAndGlyphs">CHL25</text><text transform="translate(274.80,314.3) rotate(-90)" font-size="6.2" fill="#333" text-anchor="end" textLength="13.16" lengthAdjust="spacingAndGlyphs">CHL1</text><text transform="translate(281.05,314.3) rotate(-90)" font-size="6.2" fill="#333" text-anchor="end" textLength="16.02" lengthAdjust="spacingAndGlyphs">CHL12</text><text transform="translate(287.30,314.3) rotate(-90)" font-size="6.2" fill="#333" text-anchor="end" textLength="13.16" lengthAdjust="spacingAndGlyphs">CHL4</text><text transform="translate(293.55,314.3) rotate(-90)" font-size="6.2" fill="#333" text-anchor="end" textLength="16.02" lengthAdjust="spacingAndGlyphs">CHL13</text><text transform="translate(299.80,314.3) rotate(-90)" font-size="6.2" fill="#333" text-anchor="end" textLength="15.64" lengthAdjust="spacingAndGlyphs">CHL11</text><text transform="translate(306.05,314.3) rotate(-90)" font-size="6.2" fill="#333" text-anchor="end" textLength="16.02" lengthAdjust="spacingAndGlyphs">CHL22</text><text transform="translate(312.30,314.3) rotate(-90)" font-size="6.2" fill="#333" text-anchor="end" textLength="17.73" lengthAdjust="spacingAndGlyphs">rCHL24</text><text transform="translate(318.55,314.3) rotate(-90)" font-size="6.2" fill="#333" text-anchor="end" textLength="13.16" lengthAdjust="spacingAndGlyphs">CHL8</text><text transform="translate(324.80,314.3) rotate(-90)" font-size="6.2" fill="#333" text-anchor="end" textLength="13.16" lengthAdjust="spacingAndGlyphs">CHL5</text><text transform="translate(331.05,314.3) rotate(-90)" font-size="6.2" fill="#333" text-anchor="end" textLength="16.02" lengthAdjust="spacingAndGlyphs">CHL21</text>
<line x1="244.6" y1="199.8" x2="244.6" y2="308.0" stroke="#111" stroke-width="1"/><line x1="241.4" y1="202.4" x2="244.6" y2="202.4" stroke="#111" stroke-width="0.9"/><text x="238.7" y="204.9" font-size="6.6" fill="#333" text-anchor="end" textLength="2.3" lengthAdjust="spacingAndGlyphs">1</text><line x1="241.4" y1="227.5" x2="244.6" y2="227.5" stroke="#111" stroke-width="0.9"/><text x="238.7" y="230.0" font-size="6.6" fill="#333" text-anchor="end" textLength="11.2" lengthAdjust="spacingAndGlyphs">0.75</text><line x1="241.4" y1="252.6" x2="244.6" y2="252.6" stroke="#111" stroke-width="0.9"/><text x="238.7" y="255.1" font-size="6.6" fill="#333" text-anchor="end" textLength="11.2" lengthAdjust="spacingAndGlyphs">0.50</text><line x1="241.4" y1="277.7" x2="244.6" y2="277.7" stroke="#111" stroke-width="0.9"/><text x="238.7" y="280.2" font-size="6.6" fill="#333" text-anchor="end" textLength="11.2" lengthAdjust="spacingAndGlyphs">0.25</text><line x1="241.4" y1="302.8" x2="244.6" y2="302.8" stroke="#111" stroke-width="0.9"/><text x="238.7" y="305.3" font-size="6.6" fill="#333" text-anchor="end" textLength="2.9" lengthAdjust="spacingAndGlyphs">0</text>
<line x1="244.1" y1="308.5" x2="331" y2="308.5" stroke="#111" stroke-width="1.1"/>
<text transform="translate(222.8,253.3) rotate(-90)" font-size="6.8" fill="#333" text-anchor="middle" textLength="85.4" lengthAdjust="spacingAndGlyphs">CD86 + fraction of CD68 + TAMS</text>
<line x1="363.8" y1="211.4" x2="363.8" y2="280.7" stroke="#333" stroke-width="0.9"/><rect x="359.4" y="233.8" width="8.8" height="40.3" fill="#b0041f" stroke="#b0041f" stroke-width="0.6"/><line x1="359.4" y1="264.6" x2="368.2" y2="264.6" stroke="#111" stroke-width="1.3"/>
<line x1="376.3" y1="233.8" x2="376.3" y2="302.8" stroke="#333" stroke-width="0.9"/><rect x="371.6" y="252.1" width="9.5" height="34.6" fill="#22508a" stroke="#22508a" stroke-width="0.6"/><line x1="371.6" y1="278.3" x2="381.1" y2="278.3" stroke="#111" stroke-width="1.3"/>
<line x1="355.6" y1="199.8" x2="355.6" y2="308.0" stroke="#111" stroke-width="1"/><line x1="352.40000000000003" y1="202.4" x2="355.6" y2="202.4" stroke="#111" stroke-width="0.9"/><text x="349.70000000000005" y="204.9" font-size="6.6" fill="#333" text-anchor="end" textLength="2.3" lengthAdjust="spacingAndGlyphs">1</text><line x1="352.40000000000003" y1="227.5" x2="355.6" y2="227.5" stroke="#111" stroke-width="0.9"/><text x="349.70000000000005" y="230.0" font-size="6.6" fill="#333" text-anchor="end" textLength="11.2" lengthAdjust="spacingAndGlyphs">0.75</text><line x1="352.40000000000003" y1="252.6" x2="355.6" y2="252.6" stroke="#111" stroke-width="0.9"/><text x="349.70000000000005" y="255.1" font-size="6.6" fill="#333" text-anchor="end" textLength="11.2" lengthAdjust="spacingAndGlyphs">0.50</text><line x1="352.40000000000003" y1="277.7" x2="355.6" y2="277.7" stroke="#111" stroke-width="0.9"/><text x="349.70000000000005" y="280.2" font-size="6.6" fill="#333" text-anchor="end" textLength="11.2" lengthAdjust="spacingAndGlyphs">0.25</text><line x1="352.40000000000003" y1="302.8" x2="355.6" y2="302.8" stroke="#111" stroke-width="0.9"/><text x="349.70000000000005" y="305.3" font-size="6.6" fill="#333" text-anchor="end" textLength="2.9" lengthAdjust="spacingAndGlyphs">0</text>
<line x1="355.1" y1="308.5" x2="384" y2="308.5" stroke="#111" stroke-width="1.1"/>
<line x1="363.8" y1="308.5" x2="363.8" y2="311.3" stroke="#222" stroke-width="0.8"/>
<line x1="376.3" y1="308.5" x2="376.3" y2="311.3" stroke="#222" stroke-width="0.8"/>
<text transform="translate(367.3,317.8) rotate(-45)" font-size="6.3" fill="#333" text-anchor="end" textLength="30.4" lengthAdjust="spacingAndGlyphs">within 75um</text>
<text transform="translate(379.8,317.8) rotate(-45)" font-size="6.3" fill="#333" text-anchor="end" textLength="18.5" lengthAdjust="spacingAndGlyphs">≥ 75um</text>
<text x="464.2" y="176.6" font-size="7.65" fill="#2c2c2c" text-anchor="middle">TAMs within 75um</text><text x="464.2" y="185.4" font-size="7.65" fill="#2c2c2c" text-anchor="middle">of HRS cells</text><text x="464.2" y="194.3" font-size="7.65" fill="#2c2c2c" text-anchor="middle">p = 0.002</text>
<rect x="430.90" y="201.70" width="4.6" height="100.70" fill="#284a80"/><rect x="430.90" y="202.71" width="4.6" height="99.69" fill="#b0041f"/><line x1="433.40" y1="308.1" x2="433.40" y2="311" stroke="#222" stroke-width="0.8"/><text transform="translate(435.40,314.3) rotate(-90)" font-size="6.2" fill="#333" text-anchor="end" textLength="16.02" lengthAdjust="spacingAndGlyphs">CHL13</text><rect x="436.51" y="201.70" width="4.6" height="100.70" fill="#284a80"/><rect x="436.51" y="202.71" width="4.6" height="99.69" fill="#b0041f"/><line x1="438.93" y1="308.1" x2="438.93" y2="311" stroke="#222" stroke-width="0.8"/><text transform="translate(440.93,314.3) rotate(-90)" font-size="6.2" fill="#333" text-anchor="end" textLength="13.16" lengthAdjust="spacingAndGlyphs">CHL3</text><rect x="442.12" y="201.70" width="4.6" height="100.70" fill="#284a80"/><rect x="442.12" y="203.21" width="4.6" height="99.19" fill="#b0041f"/><line x1="444.46" y1="308.1" x2="444.46" y2="311" stroke="#222" stroke-width="0.8"/><text transform="translate(446.46,314.3) rotate(-90)" font-size="6.2" fill="#333" text-anchor="end" textLength="13.16" lengthAdjust="spacingAndGlyphs">CHL5</text><rect x="447.73" y="201.70" width="4.6" height="100.70" fill="#284a80"/><rect x="447.73" y="203.71" width="4.6" height="98.69" fill="#b0041f"/><line x1="449.99" y1="308.1" x2="449.99" y2="311" stroke="#222" stroke-width="0.8"/><text transform="translate(451.99,314.3) rotate(-90)" font-size="6.2" fill="#333" text-anchor="end" textLength="16.02" lengthAdjust="spacingAndGlyphs">CHL26</text><rect x="453.34" y="201.70" width="4.6" height="100.70" fill="#284a80"/><rect x="453.34" y="207.24" width="4.6" height="95.16" fill="#b0041f"/><line x1="455.52" y1="308.1" x2="455.52" y2="311" stroke="#222" stroke-width="0.8"/><text transform="translate(457.52,314.3) rotate(-90)" font-size="6.2" fill="#333" text-anchor="end" textLength="13.16" lengthAdjust="spacingAndGlyphs">CHL1</text><rect x="458.95" y="201.70" width="4.6" height="100.70" fill="#284a80"/><rect x="458.95" y="208.25" width="4.6" height="94.15" fill="#b0041f"/><line x1="461.05" y1="308.1" x2="461.05" y2="311" stroke="#222" stroke-width="0.8"/><text transform="translate(463.05,314.3) rotate(-90)" font-size="6.2" fill="#333" text-anchor="end" textLength="16.02" lengthAdjust="spacingAndGlyphs">CHL21</text><rect x="464.56" y="201.70" width="4.6" height="100.70" fill="#284a80"/><rect x="464.56" y="209.76" width="4.6" height="92.64" fill="#b0041f"/><line x1="466.58" y1="308.1" x2="466.58" y2="311" stroke="#222" stroke-width="0.8"/><text transform="translate(468.58,314.3) rotate(-90)" font-size="6.2" fill="#333" text-anchor="end" textLength="16.02" lengthAdjust="spacingAndGlyphs">CHL25</text><rect x="470.17" y="201.70" width="4.6" height="100.70" fill="#284a80"/><rect x="470.17" y="211.27" width="4.6" height="91.13" fill="#b0041f"/><line x1="472.11" y1="308.1" x2="472.11" y2="311" stroke="#222" stroke-width="0.8"/><text transform="translate(474.11,314.3) rotate(-90)" font-size="6.2" fill="#333" text-anchor="end" textLength="16.02" lengthAdjust="spacingAndGlyphs">CHL15</text><rect x="475.78" y="201.70" width="4.6" height="100.70" fill="#284a80"/><rect x="475.78" y="212.27" width="4.6" height="90.13" fill="#b0041f"/><line x1="477.64" y1="308.1" x2="477.64" y2="311" stroke="#222" stroke-width="0.8"/><text transform="translate(479.64,314.3) rotate(-90)" font-size="6.2" fill="#333" text-anchor="end" textLength="13.16" lengthAdjust="spacingAndGlyphs">CHL9</text><rect x="481.39" y="201.70" width="4.6" height="100.70" fill="#284a80"/><rect x="481.39" y="218.32" width="4.6" height="84.08" fill="#b0041f"/><line x1="483.17" y1="308.1" x2="483.17" y2="311" stroke="#222" stroke-width="0.8"/><text transform="translate(485.17,314.3) rotate(-90)" font-size="6.2" fill="#333" text-anchor="end" textLength="17.73" lengthAdjust="spacingAndGlyphs">rCHL24</text><rect x="487.00" y="201.70" width="4.6" height="100.70" fill="#284a80"/><rect x="487.00" y="228.89" width="4.6" height="73.51" fill="#b0041f"/><line x1="488.70" y1="308.1" x2="488.70" y2="311" stroke="#222" stroke-width="0.8"/><text transform="translate(490.70,314.3) rotate(-90)" font-size="6.2" fill="#333" text-anchor="end" textLength="13.16" lengthAdjust="spacingAndGlyphs">CHL4</text><rect x="492.61" y="201.70" width="4.6" height="100.70" fill="#284a80"/><rect x="492.61" y="250.04" width="4.6" height="52.36" fill="#b0041f"/><line x1="494.23" y1="308.1" x2="494.23" y2="311" stroke="#222" stroke-width="0.8"/><text transform="translate(496.23,314.3) rotate(-90)" font-size="6.2" fill="#333" text-anchor="end" textLength="13.16" lengthAdjust="spacingAndGlyphs">CHL8</text>
<line x1="430.1" y1="199.8" x2="430.1" y2="308.0" stroke="#111" stroke-width="1"/><line x1="426.90000000000003" y1="201.7" x2="430.1" y2="201.7" stroke="#111" stroke-width="0.9"/><text x="424.20000000000005" y="204.2" font-size="6.6" fill="#333" text-anchor="end" textLength="2.3" lengthAdjust="spacingAndGlyphs">1</text><line x1="426.90000000000003" y1="226.9" x2="430.1" y2="226.9" stroke="#111" stroke-width="0.9"/><text x="424.20000000000005" y="229.4" font-size="6.6" fill="#333" text-anchor="end" textLength="11.2" lengthAdjust="spacingAndGlyphs">0.75</text><line x1="426.90000000000003" y1="252.0" x2="430.1" y2="252.0" stroke="#111" stroke-width="0.9"/><text x="424.20000000000005" y="254.5" font-size="6.6" fill="#333" text-anchor="end" textLength="11.2" lengthAdjust="spacingAndGlyphs">0.50</text><line x1="426.90000000000003" y1="277.2" x2="430.1" y2="277.2" stroke="#111" stroke-width="0.9"/><text x="424.20000000000005" y="279.7" font-size="6.6" fill="#333" text-anchor="end" textLength="11.2" lengthAdjust="spacingAndGlyphs">0.25</text><line x1="426.90000000000003" y1="302.4" x2="430.1" y2="302.4" stroke="#111" stroke-width="0.9"/><text x="424.20000000000005" y="304.9" font-size="6.6" fill="#333" text-anchor="end" textLength="2.9" lengthAdjust="spacingAndGlyphs">0</text>
<line x1="429.6" y1="308.1" x2="497.8" y2="308.1" stroke="#111" stroke-width="1.1"/>
<text transform="translate(408.7,252.35) rotate(-90)" font-size="6.8" fill="#333" text-anchor="middle" textLength="85.1" lengthAdjust="spacingAndGlyphs">PD-L1 + fraction of CD86 + TAMS</text>
<rect x="433.8" y="337" width="6.2" height="5.7" fill="#284a80"/>
<rect x="433.8" y="345.8" width="6.2" height="5.7" fill="#b0041f"/>
<text x="443.1" y="341.6" font-size="5.4" fill="#333" textLength="50.7" lengthAdjust="spacingAndGlyphs">CD86+ PD-L1- TAMs</text>
<text x="443.1" y="350.4" font-size="5.4" fill="#333" textLength="52.7" lengthAdjust="spacingAndGlyphs">CD86+ PD-L1+ TAMs</text>
</svg></body></html>
